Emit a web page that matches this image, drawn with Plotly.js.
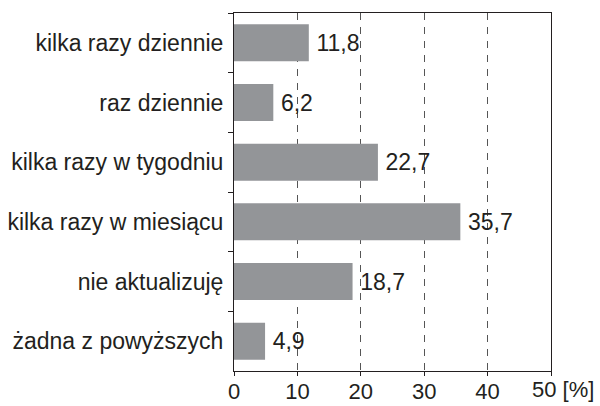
<!DOCTYPE html>
<html>
<head>
<meta charset="utf-8">
<script src="https://cdn.plot.ly/plotly-3.0.1.min.js"></script>
<style>html,body{margin:0;padding:0;background:#fff;}#chart{width:600px;height:406px;}</style>
</head>
<body>
<div id="chart"></div>
<script>
const categories = ["kilka razy dziennie", "raz dziennie", "kilka razy w tygodniu", "kilka razy w miesiącu", "nie aktualizuję", "żadna z powyższych"];
const values = [11.8, 6.2, 22.7, 35.7, 18.7, 4.9];
const tickValues = [0, 10, 20, 30, 40, 50];
const tickLabels = ["0", "10", "20", "30", "40", "50"];
const unitLabel = "[%]";

const ink = "#231f20";
const fontFamily = "'Liberation Sans', Arial, sans-serif";

const trace = {
  type: "bar",
  orientation: "h",
  x: values,
  y: categories,
  marker: {color: "#939598", line: {width: 0}},
  texttemplate: "\u2009%{x:.1f}",
  textposition: "outside",
  cliponaxis: false,
  textfont: {family: fontFamily, size: 23, color: ink},
  hoverinfo: "none"
};

const lastIdx = tickValues.length - 1;
const shownTickText = tickLabels.map((t, i) => i === lastIdx ? "" : t);

const layout = {
  width: 600,
  height: 406,
  margin: {l: 234, r: 49, t: 13, b: 35},
  paper_bgcolor: "#fff",
  plot_bgcolor: "#fff",
  separators: ", ",
  bargap: 0.38,
  showlegend: false,
  font: {family: fontFamily, size: 23, color: ink},
  xaxis: {
    range: [0, 50],
    tickvals: tickValues,
    ticktext: shownTickText,
    ticks: "outside",
    ticklen: 4,
    tickcolor: ink,
    ticklabelstandoff: -3,
    showline: true,
    linecolor: ink,
    linewidth: 1,
    mirror: true,
    showgrid: true,
    gridcolor: "#555",
    gridwidth: 1,
    griddash: "7px,7px",
    zeroline: false,
    tickfont: {family: fontFamily, size: 22, color: ink},
    fixedrange: true
  },
  yaxis: {
    autorange: "reversed",
    type: "category",
    tickson: "boundaries",
    ticks: "outside",
    ticklen: 5,
    tickcolor: ink,
    ticklabelstandoff: 5,
    showline: true,
    linecolor: ink,
    linewidth: 1,
    mirror: true,
    showgrid: false,
    zeroline: false,
    tickfont: {family: fontFamily, size: 23, color: ink},
    fixedrange: true
  },
  annotations: [{
    text: tickLabels[lastIdx] + " " + unitLabel,
    xref: "x", yref: "paper",
    x: tickValues[lastIdx], y: 0,
    xanchor: "left", yanchor: "top",
    xshift: -21, yshift: -4,
    showarrow: false,
    font: {family: fontFamily, size: 22, color: ink}
  }]
};

Plotly.newPlot("chart", [trace], layout, {displayModeBar: false, staticPlot: true});
</script>
</body>
</html>
